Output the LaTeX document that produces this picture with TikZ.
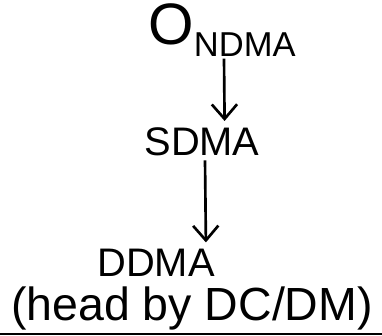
\documentclass[tikz,border=0pt]{standalone}
\usepackage{fontspec}
\setmainfont{Liberation Sans}
\usetikzlibrary{arrows.meta}
\tikzset{
  lbl/.style={inner sep=0pt, font=\fontsize{30}{34}\selectfont},
  arr/.style={-{Straight Barb[length=11pt,width=19pt]}, line width=2pt, shorten >=5pt}
}

\begin{document}
\begin{tikzpicture}
    [x=0.02646cm,y=-0.02646cm]
    \useasboundingbox (0,0) rectangle (382,336);
    % top
    \node[lbl] (ndma) at (222,30) {{\fontsize{44}{44}\selectfont O}\raisebox{-9pt}{\fontsize{26}{30}\selectfont NDMA}};
    % middle
    \node[lbl] (sdma) at (202,142) {SDMA};
    \draw[arr] (ndma.south) ++(2,2) -- ([xshift=2]ndma.south |- sdma.north) ;
    % bottom
    \node[lbl] (ddma) at (156,263) {DDMA};
    \node[lbl, font=\fontsize{35}{38}\selectfont] (head) at (192,308) {(head by DC/DM)};
    \draw[arr] (sdma.south) ++(3,4) -- ([xshift=3]sdma.south |- ddma.north) ;
    % scan edge
    \draw[line width=1.8pt] (0,334) -- (382,334);
  \end{tikzpicture}
\end{document}
